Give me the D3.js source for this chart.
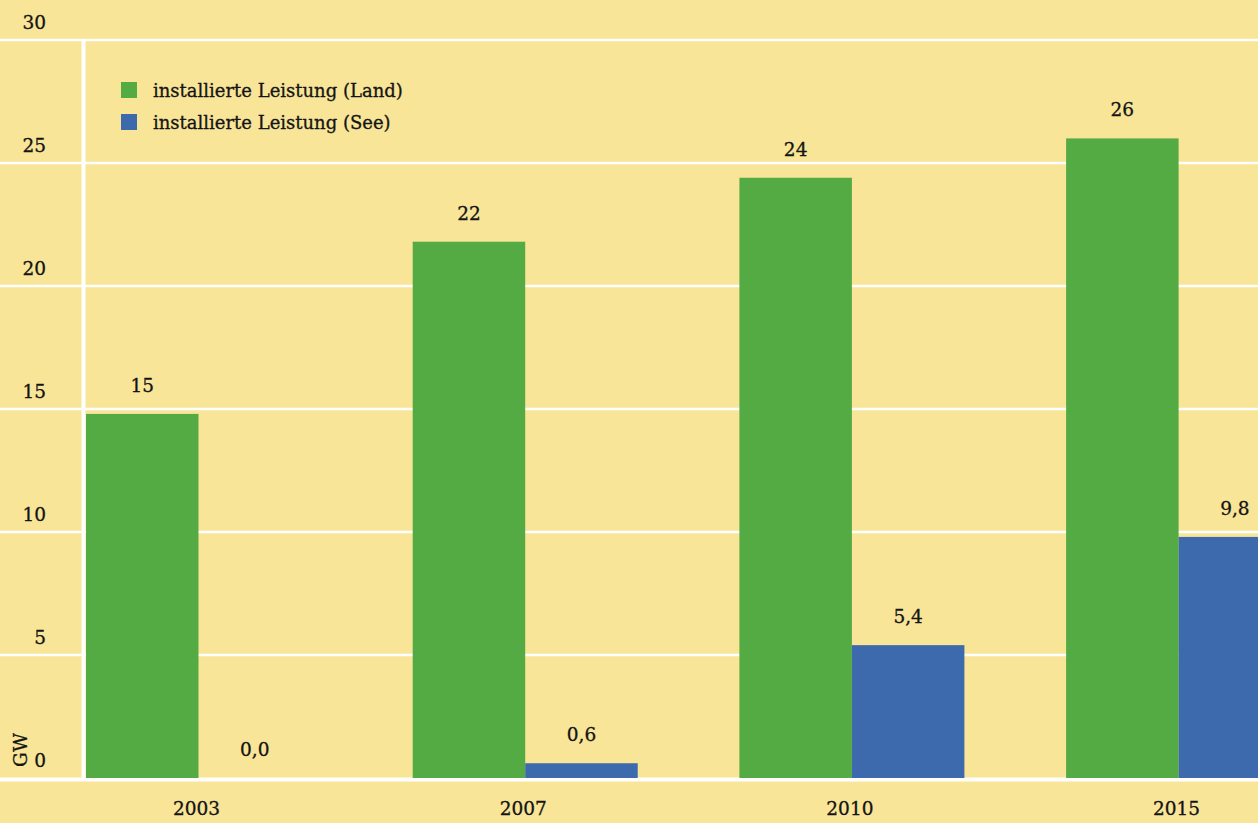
<!DOCTYPE html>
<html>
<head>
<meta charset="utf-8">
<script src="https://cdn.jsdelivr.net/npm/d3@7"></script>
<style>
  html, body { margin: 0; padding: 0; background: #f8e597; }
  svg { display: block; }
  text { font-family: "DejaVu Serif", serif; fill: #141414; stroke: #141414; stroke-width: 0.3px; }
</style>
</head>
<body>
<svg id="chart" width="1258" height="823"></svg>
<script>
// Installed wind power capacity in Germany, GW
const years = ["2003", "2007", "2010", "2015"];
const land  = [14.8, 21.8, 24.4, 26.0];   // onshore
const see   = [0.0, 0.6, 5.4, 9.8];       // offshore
const yTicks = [0, 5, 10, 15, 20, 25, 30];
const seriesNames = ["installierte Leistung (Land)", "installierte Leistung (See)"];
const seriesKeys = ["land", "see"];
const colors = ["#54ab43", "#3d69ad"];

const W = 1258, H = 823;
const svg = d3.select("#chart");

const de = d3.formatLocale({ decimal: ",", thousands: ".", grouping: [3], currency: ["", " €"] });
const fmt = { land: de.format(".0f"), see: de.format(".1f") };

const y = d3.scaleLinear().domain([0, 30]).range([778, 40]);
const x0 = d3.scaleBand().domain(years).range([86, 86 + 4 * 326.7]).paddingInner(0).paddingOuter(0);
const x1 = d3.scaleBand().domain(seriesKeys).range([0, 225]);

svg.append("rect").attr("width", W).attr("height", H).attr("fill", "#f8e597");

// horizontal grid lines
svg.append("g").selectAll("line").data(yTicks).join("line")
  .attr("x1", 0).attr("x2", W)
  .attr("y1", d => y(d)).attr("y2", d => y(d))
  .attr("stroke", "#fff").attr("stroke-width", d => d === 0 ? 4 : 2.5)
  .attr("transform", d => d === 0 ? "translate(0,1.5)" : null);

// vertical axis line
svg.append("line")
  .attr("x1", 83.5).attr("x2", 83.5)
  .attr("y1", y(30)).attr("y2", y(0))
  .attr("stroke", "#fff").attr("stroke-width", 4);

// tick labels sit above their grid line
svg.append("g").selectAll("text").data(yTicks).join("text")
  .attr("x", 46).attr("y", d => y(d) - 11)
  .attr("text-anchor", "end")
  .attr("font-size", 18.5)
  .text(d => d);

// unit label
svg.append("text")
  .attr("transform", `translate(27,${750}) rotate(-90)`)
  .attr("text-anchor", "middle")
  .attr("font-size", 18.5)
  .text("GW");

const rows = years.map((yr, i) => ({ year: yr, land: land[i], see: see[i] }));

const groups = svg.append("g").selectAll("g").data(rows).join("g")
  .attr("transform", d => `translate(${x0(d.year)},0)`);

groups.selectAll("rect").data(d => seriesKeys.map(k => ({ key: k, value: d[k] }))).join("rect")
  .attr("x", d => x1(d.key))
  .attr("width", x1.bandwidth())
  .attr("y", d => y(d.value))
  .attr("height", d => y(0) - y(d.value))
  .attr("fill", d => colors[seriesKeys.indexOf(d.key)]);

groups.selectAll("text.val").data(d => seriesKeys.map(k => ({ key: k, value: d[k] }))).join("text")
  .attr("class", "val")
  .attr("x", d => x1(d.key) + x1.bandwidth() / 2)
  .attr("y", d => y(d.value) - 22)
  .attr("text-anchor", "middle")
  .attr("font-size", 18.5)
  .text(d => fmt[d.key](d.value));

// category labels below the baseline
svg.append("g").selectAll("text").data(years).join("text")
  .attr("x", d => x0(d) + x1.bandwidth() - 2)
  .attr("y", 815)
  .attr("text-anchor", "middle")
  .attr("font-size", 18.5)
  .text(d => d);

// legend
const legend = svg.append("g").selectAll("g").data(seriesNames).join("g")
  .attr("transform", (d, i) => `translate(121,${82 + i * 32})`);
legend.append("rect").attr("width", 16).attr("height", 16).attr("fill", (d, i) => colors[i]);
legend.append("text").attr("x", 32).attr("y", 15).attr("font-size", 18).text(d => d);
</script>
</body>
</html>
